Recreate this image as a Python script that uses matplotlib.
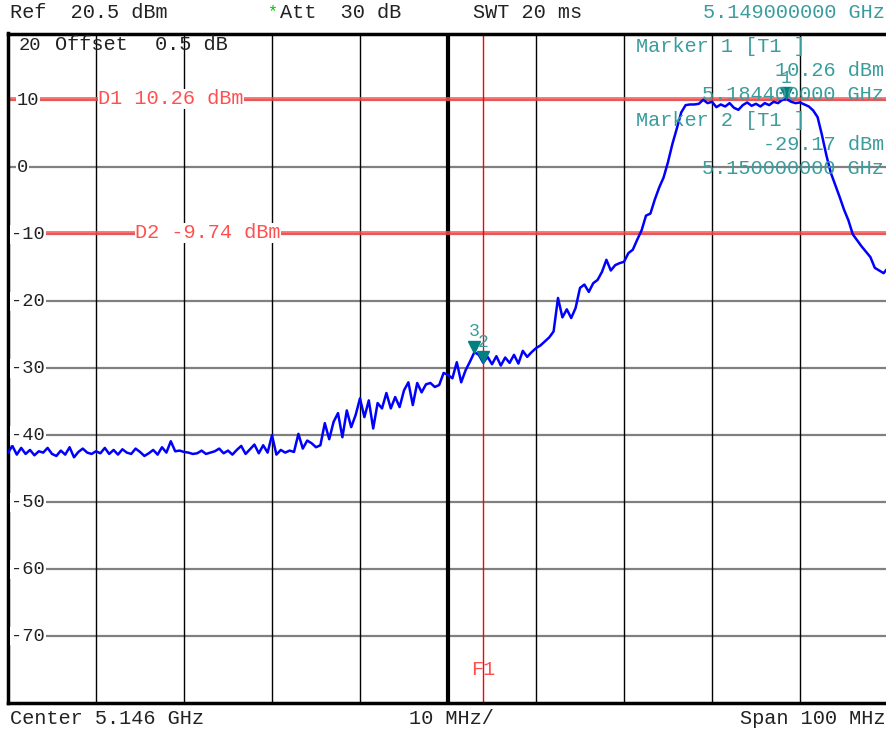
import matplotlib
matplotlib.use('Agg')

import numpy as np
import matplotlib.pyplot as plt
from matplotlib import transforms

# sweep setup
center_ghz = 5.146
span_mhz = 100.0
step_mhz = 0.5
ref_level = 20.0
bottom_level = -80.0

# trace level per sweep point (dBm), 0.5 MHz apart
level_dbm = [
    # 0 - 10 MHz
    -42.6, -41.6, -42.9, -41.9, -42.8, -42.2, -43.0, -42.4, -42.6, -41.9,
    -42.8, -43.1, -42.3, -42.9, -41.8, -43.3, -42.5, -42.0, -42.6, -42.8,
    # 10 - 20 MHz
    -42.4, -42.7, -41.9, -42.8, -42.2, -42.9, -42.1, -42.6, -42.8, -42.0,
    -42.5, -43.1, -42.7, -42.2, -42.9, -41.8, -42.6, -40.9, -42.4, -42.3,
    # 20 - 30 MHz
    -42.5, -42.6, -42.8, -42.7, -42.3, -42.8, -42.6, -42.4, -42.0, -42.7,
    -42.3, -42.9, -42.2, -41.6, -42.8, -42.1, -41.4, -42.7, -41.5, -42.6,
    # 30 - 40 MHz
    -40.0, -42.9, -42.2, -42.6, -42.3, -42.5, -39.8, -42.0, -40.8, -41.2,
    -41.8, -41.5, -38.2, -40.6, -38.0, -36.7, -40.3, -36.3, -38.8, -37.0,
    # 40 - 50 MHz
    -34.5, -37.3, -34.8, -39.0, -35.2, -36.0, -33.7, -36.0, -34.3, -35.8,
    -33.3, -32.1, -35.5, -32.2, -33.6, -32.4, -32.2, -32.8, -32.5, -30.7,
    # 50 - 60 MHz
    -31.0, -31.5, -29.1, -32.1, -30.3, -29.0, -27.6, -28.0, -29.17, -28.3,
    -29.4, -28.2, -29.6, -28.4, -29.2, -28.0, -29.3, -27.4, -28.3, -27.6,
    # 60 - 70 MHz
    -27.0, -26.6, -26.0, -25.4, -24.5, -19.5, -22.4, -21.2, -22.5, -21.0,
    -18.0, -17.5, -18.6, -17.3, -16.8, -15.6, -13.8, -15.4, -14.6, -14.3,
    # 70 - 80 MHz
    -14.1, -12.8, -12.3, -10.8, -9.4, -7.2, -6.9, -4.8, -3.0, -1.5,
    0.8, 3.5, 5.8, 8.2, 9.3, 9.4, 9.4, 9.5, 10.1, 9.6,
    # 80 - 90 MHz
    9.8, 9.0, 9.4, 9.1, 9.6, 8.9, 8.6, 9.3, 9.7, 9.2,
    9.5, 9.1, 9.6, 9.3, 9.8, 9.6, 10.1, 10.2, 9.8, 9.6,
    # 90 - 100 MHz
    9.7, 9.4, 9.1, 8.5, 7.5, 4.8, 1.8, -0.8, -2.6, -4.4,
    -6.3, -7.9, -10.0, -10.9, -11.8, -12.6, -13.4, -15.0, -15.4, -15.8,
    -15.0,
]

# markers
marker_names = ['1', '2', '3']
marker_freq_ghz = [5.1844, 5.1500, 5.1490]
marker_level_dbm = [10.26, -29.17, -27.6]

# display lines
dline_names = ['D1', 'D2']
dline_levels = [10.26, -9.74]

# frequency line
f1_ghz = 5.150

y_grid = [10, 0, -10, -20, -30, -40, -50, -60, -70]

W, H = 887, 733
FONT = 'Liberation Mono'
FS = 14.6
TEAL = '#3a9c9c'
MARKER_TEAL = '#008080'
DRED = '#ff5050'

start_ghz = center_ghz - span_mhz / 2000.0
stop_ghz = center_ghz + span_mhz / 2000.0
freq_ghz = start_ghz + np.arange(len(level_dbm)) * step_mhz / 1000.0

fig = plt.figure(figsize=(W / 100.0, H / 100.0), dpi=100)
ax = fig.add_axes([8 / W, 30 / H, 880 / W, 669.5 / H])
ax.set_xlim(start_ghz, stop_ghz)
ax.set_ylim(bottom_level, ref_level)
ax.set_xticks([])
ax.set_yticks([])
for s in ['left', 'top', 'bottom']:
    ax.spines[s].set_linewidth(2.5)
ax.spines['right'].set_visible(False)

# graticule
for y in y_grid:
    ax.axhline(y, color='#808080', lw=1.6, zorder=1)
for i in range(1, 10):
    x = start_ghz + i * span_mhz / 10000.0
    ax.axvline(x, color='black', lw=3 if i == 5 else 1.0, zorder=1)

# display lines
for name, lvl in zip(dline_names, dline_levels):
    ax.axhline(lvl, color=DRED, lw=2.8, alpha=0.8, zorder=2)

ax.axvline(f1_ghz, color='red', lw=1.0, zorder=2)

# trace
ax.plot(freq_ghz, level_dbm, color='#0000ff', lw=1.8, zorder=4)

# markers: triangle tip sits on the trace point
tri = transforms.offset_copy(ax.transData, fig=fig, x=0, y=5.5, units='dots')
num = transforms.offset_copy(ax.transData, fig=fig, x=0, y=12, units='dots')
for name, f, lvl in zip(marker_names, marker_freq_ghz, marker_level_dbm):
    ax.plot(f, lvl, marker='v', ms=8.5, color=MARKER_TEAL, mec=MARKER_TEAL,
            transform=tri, zorder=6, clip_on=False)
    ax.text(f, lvl, name, transform=num, color=TEAL, fontsize=13,
            family=FONT, ha='center', va='bottom', zorder=6)

# level labels inside the graticule
lab = transforms.blended_transform_factory(fig.transFigure, ax.transData)
for y in y_grid:
    px = 17 if y >= 0 else 11
    ax.text(px / W, y, '%d' % y, transform=lab, fontsize=13.5, family=FONT,
            color='#222222', ha='left', va='center', zorder=5,
            bbox=dict(boxstyle='square,pad=0.05', fc='white', ec='none'))

# display line labels
for name, lvl, px in zip(dline_names, dline_levels, [98, 135]):
    ax.text((px - 8) / 880.0, lvl, '%s %.2f dBm' % (name, lvl),
            transform=transforms.blended_transform_factory(ax.transAxes, ax.transData),
            fontsize=FS, family=FONT, color=DRED, ha='left', va='center', zorder=5,
            bbox=dict(boxstyle='square,pad=0.02', fc='white', ec='none'))

ax.text(f1_ghz, -75, 'F1', fontsize=FS, family=FONT, color=DRED,
        ha='center', va='center', zorder=5)


def ftext(px, py, s, color='#222222', ha='left', size=FS):
    fig.text(px / W, 1 - py / H, s, fontsize=size, family=FONT, color=color,
             ha=ha, va='center')


# header
ftext(10, 12, 'Ref  20.5 dBm')
ftext(268, 12, '*', color='#00c000', size=12)
ftext(280, 12, 'Att  30 dB')
ftext(473, 12, 'SWT 20 ms')
ftext(885, 12, '5.149000000 GHz', color=TEAL, ha='right')

# inside top-left
ftext(19, 45, '20', size=13.5)
ftext(55, 45, 'Offset')
ftext(155, 45, '0.5 dB')

# marker readout
ftext(636, 46, 'Marker 1 [T1 ]', color=TEAL)
ftext(884, 71, '%.2f dBm' % marker_level_dbm[0], color=TEAL, ha='right')
ftext(884, 95, '%.9f GHz' % marker_freq_ghz[0], color=TEAL, ha='right')
ftext(636, 120, 'Marker 2 [T1 ]', color=TEAL)
ftext(884, 145, '%.2f dBm' % marker_level_dbm[1], color=TEAL, ha='right')
ftext(884, 169, '%.9f GHz' % marker_freq_ghz[1], color=TEAL, ha='right')

# footer
ftext(10, 719, 'Center %.3f GHz' % center_ghz)
ftext(451, 719, '%d MHz/' % (span_mhz / 10), ha='center')
ftext(886, 719, 'Span %d MHz' % span_mhz, ha='right')

fig.savefig('out.png', dpi=100, facecolor='white')
